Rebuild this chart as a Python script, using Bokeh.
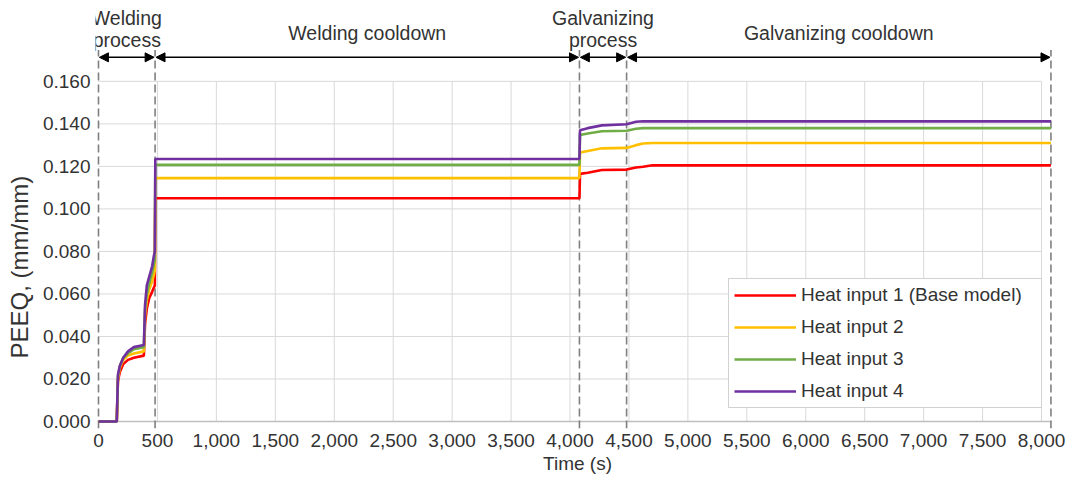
from bokeh.plotting import figure
from bokeh.models import Range1d, FixedTicker, NumeralTickFormatter, Arrow, NormalHead, Title
from bokeh.core.properties import value
from bokeh.embed import file_html
from bokeh.resources import INLINE

# ---- data ----
time_s = [0, 155, 165, 180, 210, 250, 300, 385, 395, 410, 430, 455, 470, 478, 482,
          4080, 4085, 4150, 4270, 4480, 4560, 4620, 4700, 8080]
heat1 = [0, 0, 0.019, 0.023, 0.027, 0.029, 0.030, 0.031, 0.046, 0.053, 0.058, 0.061, 0.063, 0.064, 0.105,
         0.105, 0.1165, 0.1170, 0.1183, 0.1185, 0.1195, 0.1198, 0.1205, 0.1205]
heat2 = [0, 0, 0.020, 0.025, 0.029, 0.031, 0.032, 0.033, 0.050, 0.057, 0.062, 0.066, 0.069, 0.071, 0.1145,
         0.1145, 0.1265, 0.1272, 0.1285, 0.1287, 0.1300, 0.1308, 0.1310, 0.1310]
heat3 = [0, 0, 0.021, 0.026, 0.030, 0.032, 0.034, 0.035, 0.053, 0.060, 0.065, 0.070, 0.074, 0.076, 0.1207,
         0.1207, 0.1348, 0.1355, 0.1365, 0.1368, 0.1377, 0.1380, 0.1380, 0.1380]
heat4 = [0, 0, 0.022, 0.026, 0.030, 0.033, 0.035, 0.036, 0.055, 0.064, 0.068, 0.073, 0.078, 0.080, 0.1235,
         0.1235, 0.1370, 0.1380, 0.1393, 0.1398, 0.1410, 0.1412, 0.1412, 0.1412]
series_names = ["Heat input 1 (Base model)", "Heat input 2", "Heat input 3", "Heat input 4"]
series_colors = ["#ff0000", "#ffc000", "#70ad47", "#7030a0"]

x_ticks = list(range(0, 8001, 500))
y_ticks = [0.0, 0.02, 0.04, 0.06, 0.08, 0.10, 0.12, 0.14, 0.16]

phase_bounds = [0, 480, 4080, 4480, 8080]
phase_labels = [["Welding", "process"], ["Welding cooldown"], ["Galvanizing", "process"], ["Galvanizing cooldown"]]

FONT = "Liberation Sans"
TXT = "#333333"

p = figure(width=1066, height=476,
           x_range=Range1d(-25.4, 8152.5), y_range=Range1d(-0.003285, 0.19474),
           min_border_left=94, min_border_right=7, min_border_top=7, min_border_bottom=47,
           output_backend="svg", toolbar_location=None)
p.outline_line_color = None
p.xgrid.grid_line_color = None
p.ygrid.grid_line_color = None

# grid lines (restricted to the 0..0.16 / 0..8000 area)
gx = [t for t in x_ticks if t > 0]
p.segment(x0=gx, y0=[0] * len(gx), x1=gx, y1=[max(y_ticks)] * len(gx), line_color="#d9d9d9", line_width=1)
gy = [v for v in y_ticks if v > 0]
p.segment(x0=[0] * len(gy), y0=gy, x1=[max(x_ticks)] * len(gy), y1=gy, line_color="#d9d9d9", line_width=1)
# x axis baseline
p.segment(x0=[0], y0=[0], x1=[phase_bounds[-1]], y1=[0], line_color="#bfbfbf", line_width=1.5)

# phase boundary dashed lines
p.segment(x0=phase_bounds, y0=[-0.0033] * len(phase_bounds), x1=phase_bounds, y1=[0.1748] * len(phase_bounds),
          line_color="#7f7f7f", line_width=1.6, line_dash="8 4")

# data lines
for vals, name, col in zip([heat1, heat2, heat3, heat4], series_names, series_colors):
    p.line(time_s, vals, line_color=col, line_width=2.6, legend_label=name)

# phase arrows
for a, b in zip(phase_bounds[:-1], phase_bounds[1:]):
    p.add_layout(Arrow(x_start=a + 8, y_start=0.1713, x_end=b - 8, y_end=0.1713,
                       line_color="black", line_width=1.5,
                       start=NormalHead(size=9, fill_color="black", line_color="black", line_width=1),
                       end=NormalHead(size=9, fill_color="black", line_color="black", line_width=1)))

# phase labels
lx, ly, lt = [], [], []
for (a, b), lines in zip(zip(phase_bounds[:-1], phase_bounds[1:]), phase_labels):
    mid = (a + b) / 2
    if len(lines) == 2:
        lx += [mid, mid]
        ly += [0.1898, 0.1794]
        lt += lines
    else:
        lx.append(mid)
        ly.append(0.1826)
        lt.append(lines[0])
p.text(x=lx, y=ly, text=lt, text_align="center", text_baseline="middle",
       text_font=value(FONT), text_font_size="19.5px", text_color=TXT)

# axes
p.xaxis.ticker = FixedTicker(ticks=x_ticks)
p.xaxis.formatter = NumeralTickFormatter(format="0,0")
p.yaxis.ticker = FixedTicker(ticks=y_ticks)
p.yaxis.formatter = NumeralTickFormatter(format="0.000")
for ax in (p.xaxis[0], p.yaxis[0]):
    ax.axis_line_color = None
    ax.major_tick_line_color = None
    ax.minor_tick_line_color = None
    ax.major_tick_out = 0
    ax.major_tick_in = 0
    ax.minor_tick_out = 0
    ax.minor_tick_in = 0
    ax.major_label_text_font = FONT
    ax.major_label_text_font_size = "19px"
    ax.major_label_text_color = TXT
    ax.axis_label_text_font = FONT
    ax.axis_label_text_font_style = "normal"
    ax.axis_label_text_color = TXT
p.xaxis.axis_label = "Time (s)"
p.xaxis.axis_label_text_font_size = "19px"
p.xaxis.major_label_standoff = 5
p.xaxis.axis_label_standoff = 3
p.yaxis.major_label_standoff = 5

# y axis title, centred on the 0..0.16 part of the frame
p.add_layout(Title(text="PEEQ, (mm/mm)", align="left", offset=70, vertical_align="top",
                   text_font=FONT, text_font_size="24px", text_font_style="normal",
                   text_color=TXT, standoff=10), "left")

# legend
lg = p.legend[0]
lg.location = (633, 20)
lg.padding = 5
lg.spacing = 10
lg.glyph_width = 62
lg.glyph_height = 20
lg.label_height = 20
lg.label_standoff = 5
lg.label_text_font = FONT
lg.label_text_font_size = "19px"
lg.label_text_color = TXT
lg.border_line_color = "#a6a6a6"
lg.border_line_width = 1.5
lg.background_fill_color = "white"
lg.background_fill_alpha = 1
lg.label_width = 235

open("out.html", "w").write(file_html(p, INLINE))
